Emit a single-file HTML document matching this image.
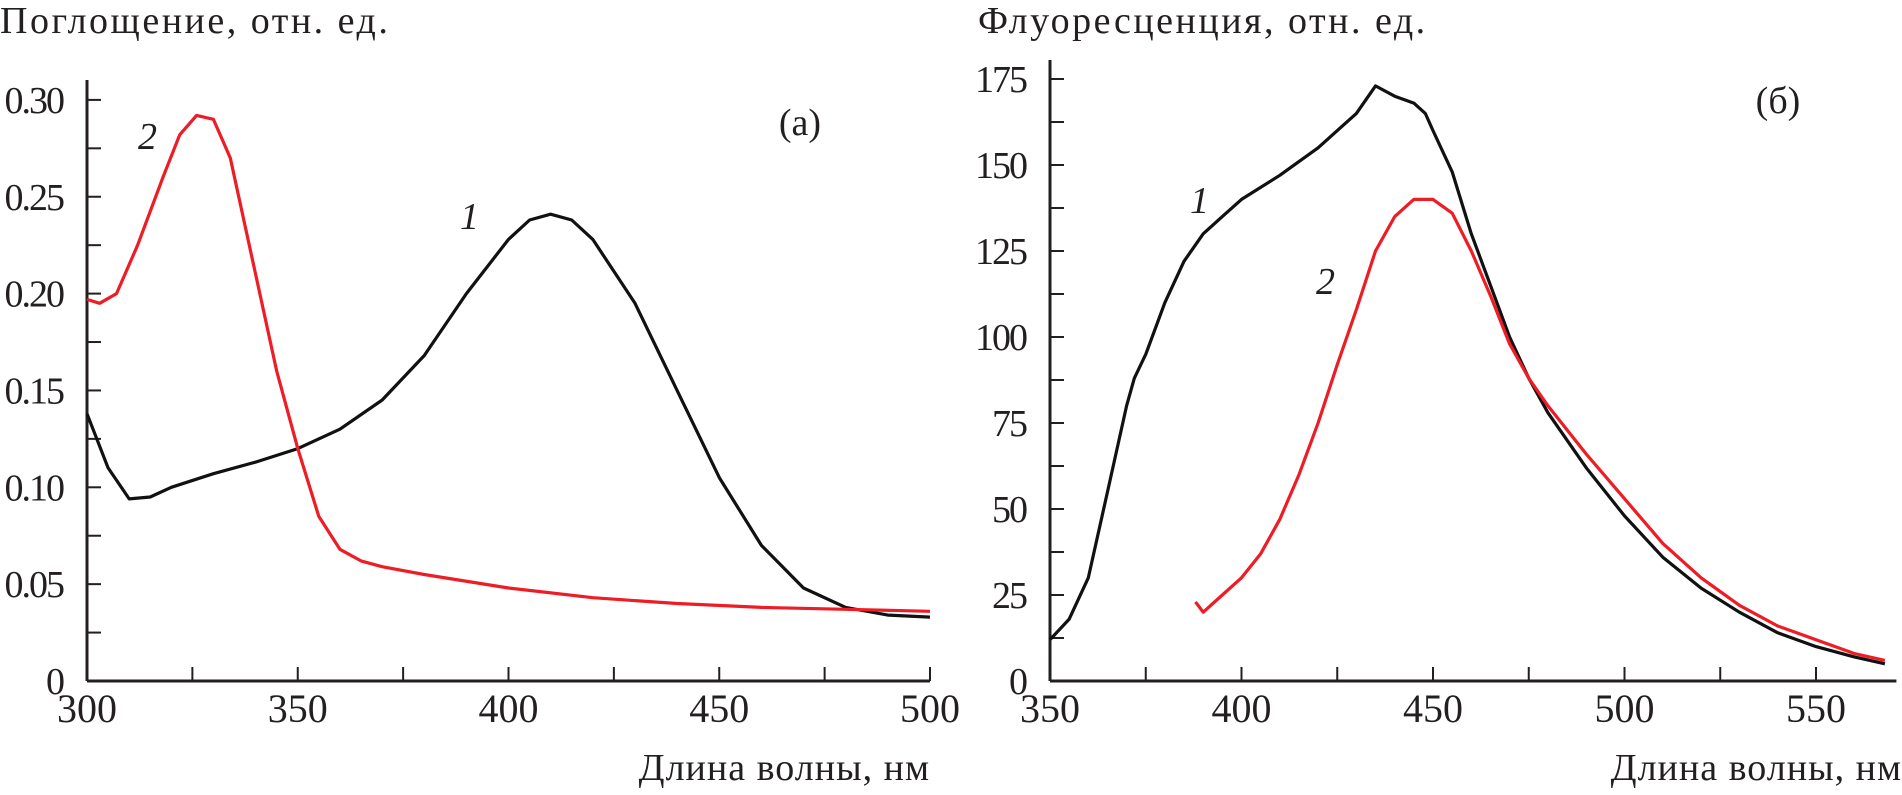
<!DOCTYPE html>
<html><head><meta charset="utf-8"><style>
body{margin:0;background:#fff;}
svg text{font-family:"Liberation Serif",serif;fill:#231f20;}
</style></head><body>
<svg id="s" width="1902" height="790" xmlns="http://www.w3.org/2000/svg">
<text x="0" y="33" font-size="38" letter-spacing="2.5">Поглощение, отн. ед.</text>
<text x="978" y="33" font-size="38" letter-spacing="2.5">Флуоресценция, отн. ед.</text>
<text x="930" y="780" font-size="38" letter-spacing="1" text-anchor="end">Длина волны, нм</text>
<text x="1902" y="780" font-size="38" letter-spacing="1" text-anchor="end">Длина волны, нм</text>
<text x="800" y="135" font-size="38" text-anchor="middle">(а)</text>
<text x="1778" y="113" font-size="38" text-anchor="middle">(б)</text>
<text x="138" y="149" font-size="38" font-style="italic">2</text>
<text x="460" y="229" font-size="38" font-style="italic">1</text>
<text x="1190" y="213" font-size="38" font-style="italic">1</text>
<text x="1316" y="294" font-size="38" font-style="italic">2</text>
</svg>
<script>
const absWl1=[300,305,310,315,320,330,340,350,360,370,380,390,400,405,410,415,420,430,440,450,460,470,480,490,500];
const absVal1=[0.138,0.11,0.094,0.095,0.1,0.107,0.113,0.12,0.13,0.145,0.168,0.2,0.228,0.238,0.241,0.238,0.228,0.195,0.15,0.105,0.07,0.048,0.038,0.034,0.033];
const absWl2=[300,303,307,312,318,322,326,330,334,340,345,350,355,360,365,370,380,400,420,440,460,480,500];
const absVal2=[0.197,0.195,0.2,0.225,0.26,0.282,0.292,0.29,0.27,0.21,0.16,0.12,0.085,0.068,0.062,0.059,0.055,0.048,0.043,0.04,0.038,0.037,0.036];
const flWl1=[350,355,360,365,370,372,375,380,385,390,395,400,410,420,430,435,440,445,448,450,455,460,465,470,475,480,490,500,510,520,530,540,550,560,568];
const flVal1=[12,18,30,55,80,88,95,110,122,130,135,140,147,155,165,173,170,168,165,160,148,130,115,100,88,78,62,48,36,27,20,14,10,7,5];
const flWl2=[388,390,395,400,405,410,415,420,425,430,435,440,445,450,455,460,465,470,475,480,490,500,510,520,530,540,550,560,568];
const flVal2=[23,20,25,30,37,47,60,75,92,108,125,135,140,140,136,125,112,98,88,80,66,53,40,30,22,16,12,8,6];
const absXTicks=[300,350,400,450,500];
const absYTicks=[0,0.05,0.1,0.15,0.2,0.25,0.3];
const absYLabels=["0","0.05","0.10","0.15","0.20","0.25","0.30"];
const flXTicks=[350,400,450,500,550];
const flYTicks=[0,25,50,75,100,125,150,175];

const NS="http://www.w3.org/2000/svg";const svg=document.getElementById('s');
function mk(t,a){const e=document.createElementNS(NS,t);for(const k in a)e.setAttribute(k,a[k]);svg.appendChild(e);return e;}
const ax={x:v=>87+(v-300)*843/200,y:v=>681-v*1937};
const bx={x:v=>1050+(v-350)*3.83,y:v=>681-v*3.44};

function axes(A,x0,xmax,ytop,xt,xminor,yt,yminor,ylab,pfx){
  let e=mk('line',{x1:A.x(x0),y1:681,x2:A.x(xmax),y2:681,stroke:'#231f20','stroke-width':3});
  
  e=mk('line',{x1:A.x(x0),y1:681,x2:A.x(x0),y2:ytop,stroke:'#231f20','stroke-width':3});
  
  for(let v=x0+xminor;v<=xmax+0.01;v+=xminor){
    e=mk('line',{x1:A.x(v),y1:681,x2:A.x(v),y2:667,stroke:'#231f20','stroke-width':2});
    
  }
  xt.forEach(v=>{e=mk('text',{x:A.x(v),y:722,'font-size':40,'text-anchor':'middle'});e.textContent=v;
    });
  const ymax=yt[yt.length-1];
  for(let v=yminor;v<=ymax+1e-6;v+=yminor){
    e=mk('line',{x1:A.x(x0),y1:A.y(v),x2:A.x(x0)+14,y2:A.y(v),stroke:'#231f20','stroke-width':2});
    
  }
  yt.forEach((v,i)=>{e=mk('text',{x:A.x(x0)-24,y:A.y(v)+13,'font-size':38,'letter-spacing':-2,'text-anchor':'end'});e.textContent=ylab?ylab[i]:v;
    });
}
axes(ax,300,500,80,absXTicks,25,absYTicks,0.025,absYLabels,'left');
axes(bx,350,571,60,flXTicks,25,flYTicks,12.5,null,'right');

function line(A,xs,ys,col,name){
  const d=xs.map((v,i)=>(i?'L':'M')+A.x(v).toFixed(1)+','+A.y(ys[i]).toFixed(1)).join(' ');
  const e=mk('path',{d:d,fill:'none',stroke:col,'stroke-width':3.2,'stroke-linejoin':'round'});
  
  
}
line(ax,absWl1,absVal1,'#111','absorption-curve-1');
line(ax,absWl2,absVal2,'#ee1c25','absorption-curve-2');
line(bx,flWl1,flVal1,'#111','fluorescence-curve-1');
line(bx,flWl2,flVal2,'#ee1c25','fluorescence-curve-2');
</script>
</body></html>
